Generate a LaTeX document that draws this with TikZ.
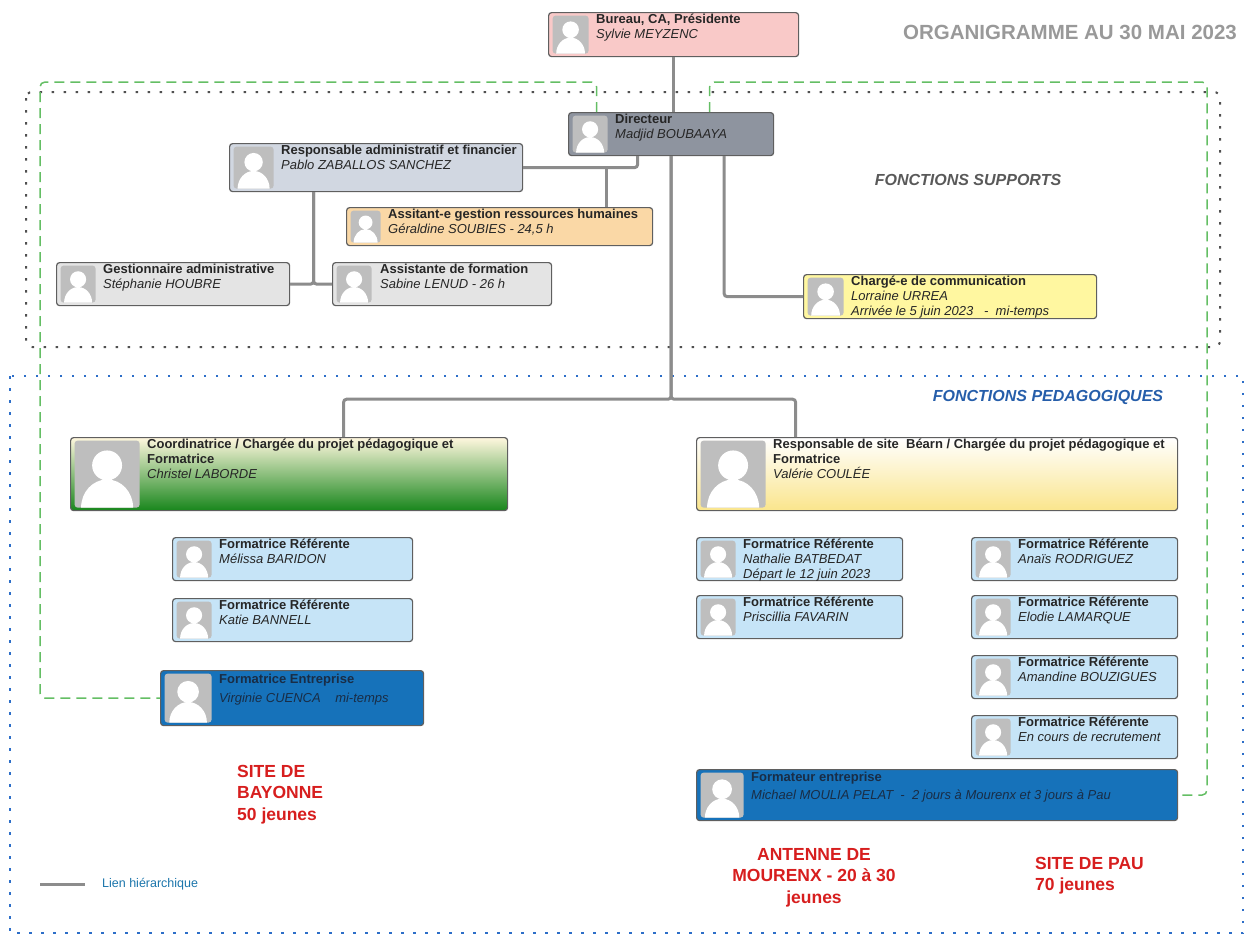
\documentclass[tikz,border=0pt]{standalone}
\usepackage{fontspec}
\setmainfont{Liberation Sans}
\usetikzlibrary{positioning,calc}

\definecolor{rose}{RGB}{249,201,200}
\definecolor{ardoise}{RGB}{142,148,159}
\definecolor{acier}{RGB}{209,215,225}
\definecolor{peche}{RGB}{250,216,166}
\definecolor{perle}{RGB}{228,228,228}
\definecolor{citron}{RGB}{255,247,160}
\definecolor{ciel}{RGB}{198,228,247}
\definecolor{marine}{RGB}{22,114,186}
\definecolor{vert}{RGB}{24,134,28}
\definecolor{vertclair}{RGB}{150,210,150}
\definecolor{creme}{RGB}{255,247,222}
\definecolor{paille}{RGB}{250,229,140}
\definecolor{trait}{RGB}{140,140,140}
\definecolor{bord}{RGB}{95,95,95}
\definecolor{tirets}{RGB}{100,190,100}
\definecolor{pointsnoirs}{RGB}{80,80,80}
\definecolor{pointsbleus}{RGB}{45,110,200}
\definecolor{rouge}{RGB}{215,30,30}
\definecolor{photogris}{RGB}{190,190,190}
\definecolor{encre}{RGB}{38,38,38}
\definecolor{nuit}{RGB}{25,45,70}

% placeholder picture at the left of a card, #1 = its width
\newcommand\photo[1]{%
  \coordinate (ph1) at ([xshift=4pt,yshift=-3pt]path picture bounding box.north west);
  \coordinate (ph2) at ([xshift={4pt+(#1)*1pt},yshift=3pt]path picture bounding box.south west);
  \fill[photogris] (ph1) rectangle (ph2);
  \begin{scope}
    \clip (ph1) rectangle (ph2);
    \fill[white] let \p1=(ph1), \p2=(ph2) in
      ({(\x1+\x2)/2},{\y1-0.37*(\y1-\y2)}) circle[radius={0.23*(\x2-\x1)}]
      ({(\x1+\x2)/2},{\y2}) ellipse[x radius={0.4*(\x2-\x1)}, y radius={0.42*(\y1-\y2)}];
  \end{scope}}

\begin{document}
\begin{tikzpicture}[x=1pt,y=-1pt,
    card/.style n args={3}{draw=bord, line width=1.2pt, rounded corners=3pt,
      fill=#1, minimum width=#2pt, minimum height=#3pt, anchor=north west,
      inner sep=0pt, path picture={\photo{#3-8}}},
    txt/.style={anchor=north west, inner sep=0pt, align=left,
      font=\fontsize{13}{15}\selectfont, text=encre},
    link/.style={draw=trait, line width=3pt, rounded corners=3pt},
    greendash/.style={draw=tirets, line width=1.5pt, dash pattern=on 10pt off 6pt,
      rounded corners=5pt},
    site/.style={inner sep=0pt, text=rouge,
      font=\fontsize{17.5}{21.5}\selectfont\bfseries}]
  \useasboundingbox (0,0) rectangle (1248,937);

  % frames
  \draw[pointsnoirs, line width=2pt, dash pattern=on 2.5pt off 9.5pt, rounded corners=6pt]
    (26,92) rectangle (1220,347);
  \draw[pointsbleus, line width=2pt, dash pattern=on 2.5pt off 9.5pt]
    (10,376) rectangle (1243,933);

  \node[anchor=center, text=black!40, font=\fontsize{20.5}{24}\selectfont\bfseries]
    (titre) at (1070,32) {ORGANIGRAMME AU 30 MAI 2023};
  \node[text=black!65, font=\fontsize{16}{19}\selectfont\bfseries\itshape]
    (supports) at (968,180) {FONCTIONS SUPPORTS};
  \node[text=pointsbleus!85!black, font=\fontsize{16}{19}\selectfont\bfseries\itshape]
    (pedago) at (1048,397) {FONCTIONS PEDAGOGIQUES};

  % direction
  \node[card={rose}{250}{44}]     (bureau) at (548,12)  {};
  \node[card={ardoise}{205}{43}]  (dir)    at (568,112) {};
  \node[card={acier}{293}{48}]    (resp)   at (229,143) {};
  \node[card={peche}{306}{38}]    (rh)     at (346,207) {};
  \node[card={perle}{233}{43}]    (gest)   at (56,262)  {};
  \node[card={perle}{219}{43}]    (asf)    at (332,262) {};
  \node[card={citron}{293}{44}]   (comm)   at (803,274) {};

  \node[txt, below right=1.5pt and 48pt of bureau.north west] (bureau-t)
    {\textbf{Bureau, CA, Présidente}\\\textit{Sylvie MEYZENC}};
  \node[txt, below right=1.5pt and 47pt of dir.north west] (dir-t)
    {\textbf{Directeur}\\\textit{Madjid BOUBAAYA}};
  \node[txt, below right=1.5pt and 52pt of resp.north west] (resp-t)
    {\textbf{Responsable administratif et financier}\\\textit{Pablo ZABALLOS SANCHEZ}};
  \node[txt, below right=1.5pt and 42pt of rh.north west] (rh-t)
    {\textbf{Assitant-e gestion ressources humaines}\\\textit{Géraldine SOUBIES - 24,5 h}};
  \node[txt, below right=1.5pt and 47pt of gest.north west] (gest-t)
    {\textbf{Gestionnaire administrative}\\\textit{Stéphanie HOUBRE}};
  \node[txt, below right=1.5pt and 48pt of asf.north west] (asf-t)
    {\textbf{Assistante de formation}\\\textit{Sabine LENUD - 26 h}};
  \node[txt, below right=1.5pt and 48pt of comm.north west] (comm-t)
    {\textbf{Chargé-e de communication}\\\textit{Lorraine URREA}\\
     \textit{Arrivée le 5 juin 2023 \ \ - \ mi-temps}};

  % pedagogie
  \node[card={white}{437}{73}, top color=creme, middle color=vertclair, bottom color=vert]
    (christel) at (70,437) {};
  \node[card={white}{481}{73}, top color=white, bottom color=paille]
    (valerie) at (696,437) {};
  \node[card={ciel}{240}{43}]    (melissa)    at (172,537) {};
  \node[card={ciel}{240}{43}]    (katie)      at (172,598) {};
  \node[card={marine}{263}{55}]  (virginie)   at (160,670) {};
  \node[card={ciel}{206}{43}]    (nathalie)   at (696,537) {};
  \node[card={ciel}{206}{43}]    (priscillia) at (696,595) {};
  \node[card={ciel}{206}{43}]    (anais)      at (971,537) {};
  \node[card={ciel}{206}{43}]    (elodie)     at (971,595) {};
  \node[card={ciel}{206}{43}]    (amandine)   at (971,655) {};
  \node[card={ciel}{206}{43}]    (encours)    at (971,715) {};
  \node[card={marine}{481}{51}]  (michael)    at (696,769) {};

  \node[txt, below right=1.5pt and 77pt of christel.north west] (christel-t)
    {\textbf{Coordinatrice / Chargée du projet pédagogique et}\\\textbf{Formatrice}\\
     \textit{Christel LABORDE}};
  \node[txt, below right=1.5pt and 77pt of valerie.north west] (valerie-t)
    {\textbf{Responsable de site \ Béarn / Chargée du projet pédagogique et}\\
     \textbf{Formatrice}\\\textit{Valérie COULÉE}};
  \node[txt, below right=1.5pt and 47pt of melissa.north west] (melissa-t)
    {\textbf{Formatrice Référente}\\\textit{Mélissa BARIDON}};
  \node[txt, below right=1.5pt and 47pt of katie.north west] (katie-t)
    {\textbf{Formatrice Référente}\\\textit{Katie BANNELL}};
  \node[txt, text=nuit, below right=4pt and 59pt of virginie.north west] (virginie-t)
    {\textbf{Formatrice Entreprise}\\[4pt]\textit{Virginie CUENCA \ \ \ mi-temps}};
  \node[txt, below right=1.5pt and 47pt of nathalie.north west] (nathalie-t)
    {\textbf{Formatrice Référente}\\\textit{Nathalie BATBEDAT}\\\textit{Départ le 12 juin 2023}};
  \node[txt, below right=1.5pt and 47pt of priscillia.north west] (priscillia-t)
    {\textbf{Formatrice Référente}\\\textit{Priscillia FAVARIN}};
  \node[txt, below right=1.5pt and 47pt of anais.north west] (anais-t)
    {\textbf{Formatrice Référente}\\\textit{Anaïs RODRIGUEZ}};
  \node[txt, below right=1.5pt and 47pt of elodie.north west] (elodie-t)
    {\textbf{Formatrice Référente}\\\textit{Elodie LAMARQUE}};
  \node[txt, below right=1.5pt and 47pt of amandine.north west] (amandine-t)
    {\textbf{Formatrice Référente}\\\textit{Amandine BOUZIGUES}};
  \node[txt, below right=1.5pt and 47pt of encours.north west] (encours-t)
    {\textbf{Formatrice Référente}\\\textit{En cours de recrutement}};
  \node[txt, text=nuit, below right=3pt and 55pt of michael.north west] (michael-t)
    {\textbf{Formateur entreprise}\\[3pt]
     \textit{Michael MOULIA PELAT \ - \ 2 jours à Mourenx et 3 jours à Pau}};

  \node[site, anchor=north west, align=left] (bayonne) at (237,765)
    {SITE DE\\BAYONNE\\50 jeunes};
  \node[site, anchor=north, align=center] (mourenx) at (814,848)
    {ANTENNE DE\\MOURENX - 20 à 30\\jeunes};
  \node[site, anchor=north west, align=left] (pau) at (1035,857)
    {SITE DE PAU\\70 jeunes};

  % liens hierarchiques
  \coordinate (rhjoin) at (606,167);
  \draw[link] (bureau.south) -- (bureau.south |- dir.north);
  \draw[link] ([xshift=-33.5pt]dir.south) |- (resp.east);
  \draw[link] (rhjoin) -- (rhjoin |- rh.north);
  \draw[link] ([xshift=-62.5pt]resp.south) |- (gest.east);
  \draw[link] ([xshift=-62.5pt]resp.south) |- (asf.west);
  \draw[link] ([xshift=53pt]dir.south) |- (comm.west);
  \draw[link] (dir.south) -- ++(0,243) -| ([xshift=54.5pt]christel.north);
  \draw[link] (dir.south) -- ++(0,243) -| ([xshift=-141.5pt]valerie.north);

  % liens entreprise
  \coordinate (gtl) at (40,82);
  \coordinate (gtr) at (1207,82);
  \draw[greendash] ([xshift=-74.5pt]dir.north) |- (gtl) |- (virginie.west);
  \draw[greendash] ([xshift=38.5pt]dir.north) |- (gtr) |- (michael.east);

  % legende
  \coordinate (leg1) at (40,884);
  \coordinate (leg2) at (85,884);
  \draw[link] (leg1) -- (leg2);
  \node[inner sep=0pt, anchor=west, text=pointsbleus!60!teal,
    font=\fontsize{12.5}{15}\selectfont, right=17pt of leg2] (legende) {Lien hiérarchique};
\end{tikzpicture}
\end{document}
